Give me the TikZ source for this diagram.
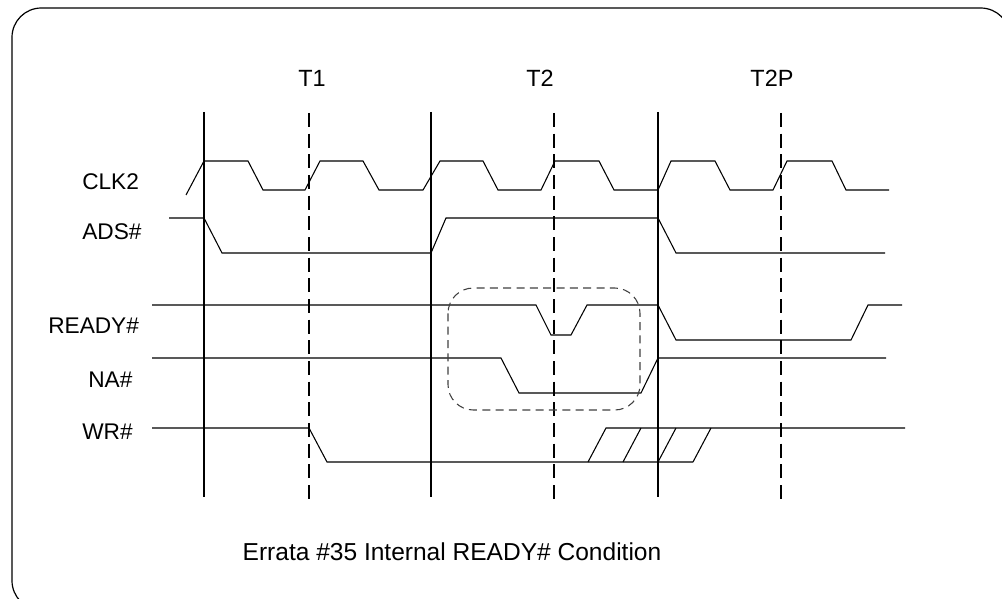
\documentclass[tikz,border=0pt]{standalone}
\usepackage{fontspec}
\setmainfont{Liberation Sans}
\begin{document}
\begin{tikzpicture}[x=0.75pt,y=-0.75pt,
  wave/.style={line width=0.8pt,line join=miter},
  clockline/.style={line width=1.5pt},
  halfline/.style={line width=1.5pt,dash pattern=on 10.5pt off 5pt},
  focusbox/.style={line width=0.8pt,draw=black!75,dash pattern=on 6pt off 4pt,rounded corners=19pt},
  siglabel/.style={anchor=west,inner sep=0pt,font=\fontsize{17pt}{20pt}\selectfont},
  phaselabel/.style={anchor=center,inner sep=0pt,font=\fontsize{17.6pt}{21pt}\selectfont},
  captionlabel/.style={anchor=center,inner sep=0pt,font=\fontsize{18.4pt}{22pt}\selectfont}]
\useasboundingbox (0,0) rectangle (1002,599);
\begin{scope}
\clip (0,0) rectangle (1002,599);
\draw[line width=0.9pt,rounded corners=22pt] (12,8) rectangle (1010,610);
\end{scope}
% phase labels
\node[phaselabel] (t1) at (312,78) {T1};
\node[phaselabel] (t2) at (540,78) {T2};
\node[phaselabel] (t2p) at (772,78) {T2P};
% signal labels
\node[siglabel] (lclk) at (82,182) {CLK2};
\node[siglabel] (lads) at (82,232) {ADS\#};
\node[siglabel] (lrdy) at (48,326) {READY\#};
\node[siglabel] (lna) at (88,380) {NA\#};
\node[siglabel] (lwr) at (82,432) {WR\#};
\node[captionlabel] (cap) at (452,552) {Errata \#35 Internal READY\# Condition};
% vertical lines
\foreach \x in {204,431,658} \draw[clockline] (\x,112) -- (\x,497);
\foreach \x in {309,554,781} \draw[halfline] (\x,113) -- (\x,500);
% CLK2
\draw[wave] (186,195) -- (204,161) -- (248,161) -- (263,190) -- (305,190) -- (320,161) -- (363,161) -- (379,190) -- (423,190) -- (440,161) -- (483,161) -- (498,190) -- (541,190) -- (555,161) -- (599,161) -- (614,190) -- (658,190) -- (671,161) -- (715,161) -- (730,190) -- (773,190) -- (787,161) -- (832,161) -- (846,190) -- (889,190);
% ADS#
\draw[wave] (169,218) -- (204,218) -- (222,253) -- (431,253) -- (446,218) -- (658,218) -- (676,253) -- (885,253);
% READY#
\draw[wave] (152,305) -- (536,305) -- (551,335) -- (571,335) -- (587,305) -- (658,305) -- (676,340) -- (851,340) -- (868,305) -- (902,305);
% NA#
\draw[wave] (152,358) -- (501,358) -- (519,393) -- (641,393) -- (658,358) -- (886,358);
% WR#
\draw[wave] (152,428) -- (309,428) -- (327,462) -- (693,462);
\draw[wave] (588,462) -- (606,428) -- (905,428);
\draw[wave] (623,462) -- (641,428);
\draw[wave] (658,462) -- (676,428);
\draw[wave] (693,462) -- (711,428);
% focus box
\draw[focusbox] (448,288) rectangle (640,410);
\end{tikzpicture}
\end{document}
